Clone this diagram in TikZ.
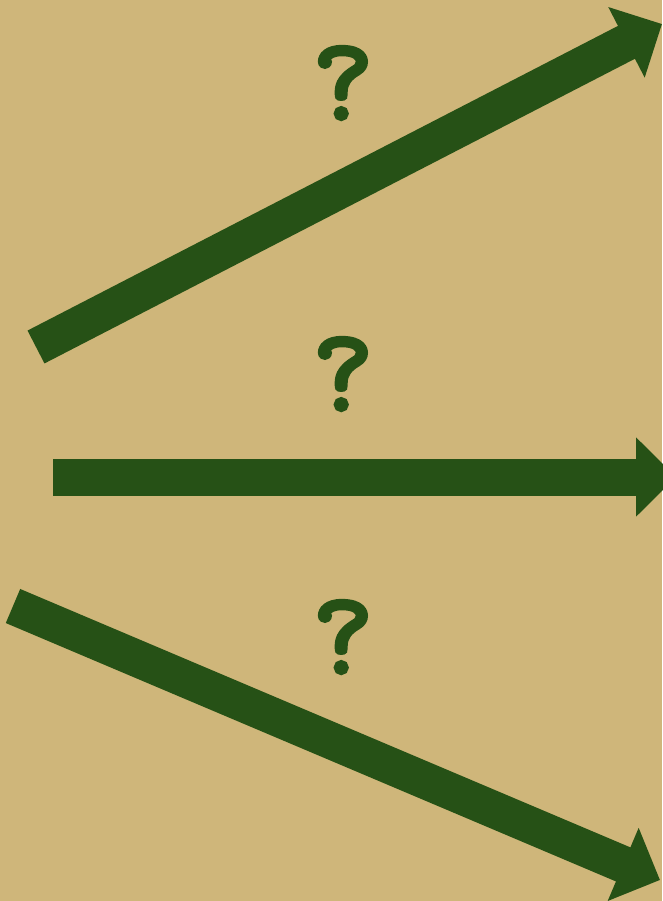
\documentclass[tikz,border=0pt]{standalone}
\usepackage{fontspec}
\usepackage{xcolor}
\usepackage{tikz}
\usetikzlibrary{positioning, arrows.meta}
\newfontfamily\qfont[FakeBold=4]{Latin Modern Mono}
\definecolor{sand}{HTML}{CFB67A}
\definecolor{leaf}{HTML}{265116}

\begin{document}
\begin{tikzpicture}[
    x=1pt, y=-1pt,
    bigarrow/.style={draw=leaf, line width=37pt, -{Triangle[length=40pt, width=77pt]}},
    guess/.style={inner sep=0pt, text=leaf, font=\qfont\fontsize{116}{116}\selectfont}
]

    % Background
    \fill[sand] (0,0) rectangle (662,901);
    \useasboundingbox (0,0) rectangle (662,901);

    % Ends of the arrows
    \coordinate (UpTail)   at (36,347);
    \coordinate (UpTip)    at (662,24);
    \coordinate (MidTail)  at (53,477);
    \coordinate (MidTip)   at (676,477);
    \coordinate (DownTail) at (13,606);
    \coordinate (DownTip)  at (660,880);

    % Questions
    \node[guess] (UpGuess)   at (343,83)  {?};
    \node[guess] (MidGuess)  at (343,374) {?};
    \node[guess] (DownGuess) at (343,637) {?};

    % Arrows
    \draw[bigarrow] (UpTail) -- (UpTip);
    \draw[bigarrow] (MidTail) -- (MidTip);
    \draw[bigarrow] (DownTail) -- (DownTip);

\end{tikzpicture}
\end{document}
